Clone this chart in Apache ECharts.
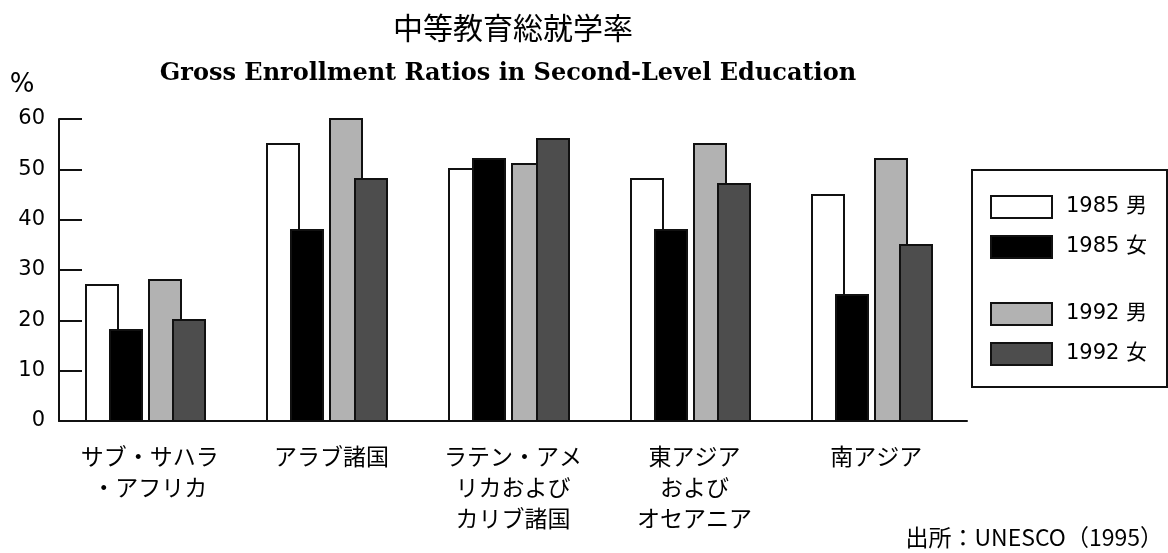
<!DOCTYPE html>
<html>
<head>
<meta charset="utf-8">
<script src="https://cdn.jsdelivr.net/npm/echarts@6/dist/echarts.min.js"></script>
<style>
  html, body { margin: 0; padding: 0; background: #fff; }
  #chart { width: 1168px; height: 553px; }
</style>
</head>
<body>
<div id="chart"></div>
<script>
const categories = ['サブ・サハラ\n・アフリカ', 'アラブ諸国', 'ラテン・アメ\nリカおよび\nカリブ諸国', '東アジア\nおよび\nオセアニア', '南アジア']
const male1985 = [27, 55, 50, 48, 45]
const female1985 = [18, 38, 52, 38, 25]
const male1992 = [28, 60, 51, 55, 52]
const female1992 = [20, 48, 56, 47, 35]
const seriesNames = ['1985 男', '1985 女', '1992 男', '1992 女']

const jpFont = '"Noto Sans CJK JP", sans-serif'
const numFont = '"DejaVu Sans", "Noto Sans CJK JP", sans-serif'
const edge = '#111'

// bar centre offsets and width, as a share of one category band
const barWidthRatio = 32 / 181.6
const offsets = [-48 / 181.6, -24 / 181.6, 15 / 181.6, 39.5 / 181.6]
const colors = ['#ffffff', '#000000', '#b2b2b2', '#4d4d4d']

function makeRender (offset, color) {
  return function (params, api) {
    const base = api.coord([api.value(0), 0])
    const top = api.coord([api.value(0), api.value(1)])
    const band = api.size([1, 0])[0]
    const w = Math.round(band * barWidthRatio)
    const x = Math.round(base[0] + band * offset - w / 2)
    return {
      type: 'rect',
      shape: { x: x, y: Math.round(top[1]), width: w, height: Math.round(base[1]) - Math.round(top[1]) },
      style: { fill: color, stroke: edge, lineWidth: 2 }
    }
  }
}

const values = [male1985, female1985, male1992, female1992]

const legendBase = {
  orient: 'vertical',
  left: 985,
  icon: 'rect',
  itemWidth: 61,
  itemHeight: 22,
  itemGap: 16,
  selectedMode: false,
  itemStyle: { borderColor: edge, borderWidth: 2 },
  textStyle: { color: '#000', fontFamily: numFont, fontSize: 21, padding: [0, 0, 0, 9] }
}

const chart = echarts.init(document.getElementById('chart'))
chart.setOption({
  animation: false,
  backgroundColor: '#fff',
  grid: { left: 59, right: 201, top: 119, bottom: 132 },
  xAxis: {
    type: 'category',
    data: categories,
    boundaryGap: true,
    axisLine: { lineStyle: { color: edge, width: 2 } },
    axisTick: { inside: true, length: 6, lineStyle: { color: edge, width: 2 } },
    axisLabel: {
      color: '#000',
      fontFamily: jpFont,
      fontSize: 23,
      lineHeight: 31,
      margin: 20,
      interval: 0
    }
  },
  yAxis: {
    type: 'value',
    min: 0,
    max: 60,
    interval: 10,
    splitLine: { show: false },
    axisLine: { show: true, lineStyle: { color: edge, width: 2 } },
    axisTick: { show: true, inside: true, length: 23, lineStyle: { color: edge, width: 2 } },
    axisLabel: { color: '#000', fontFamily: numFont, fontSize: 21, margin: 14 }
  },
  legend: [
    Object.assign({}, legendBase, { top: 190, data: seriesNames.slice(0, 2) }),
    Object.assign({}, legendBase, { top: 297, data: seriesNames.slice(2) })
  ],
  graphic: [
    {
      type: 'text',
      x: 513,
      y: 28,
      style: { text: '中等教育総就学率', font: '30px ' + jpFont, fill: '#000', textAlign: 'center', textVerticalAlign: 'middle' }
    },
    {
      type: 'text',
      x: 508,
      y: 74,
      style: { text: 'Gross Enrollment Ratios in Second-Level Education', font: 'bold 24px "DejaVu Serif", serif', fill: '#000', textAlign: 'center', textVerticalAlign: 'middle' }
    },
    {
      type: 'text',
      x: 22,
      y: 85,
      style: { text: '%', font: '26px ' + numFont, fill: '#000', textAlign: 'center', textVerticalAlign: 'middle' }
    },
    {
      type: 'text',
      x: 1163,
      y: 537,
      style: { text: '出所：UNESCO（1995）', font: '23px ' + jpFont, fill: '#000', textAlign: 'right', textVerticalAlign: 'middle' }
    },
    {
      type: 'rect',
      shape: { x: 972, y: 170, width: 195, height: 217 },
      style: { fill: 'none', stroke: edge, lineWidth: 2 }
    }
  ],
  series: seriesNames.map((name, k) => ({
    name: name,
    type: 'custom',
    renderItem: makeRender(offsets[k], colors[k]),
    itemStyle: { color: colors[k] },
    encode: { x: 0, y: 1 },
    data: values[k].map((v, i) => [i, v])
  }))
})
</script>
</body>
</html>
